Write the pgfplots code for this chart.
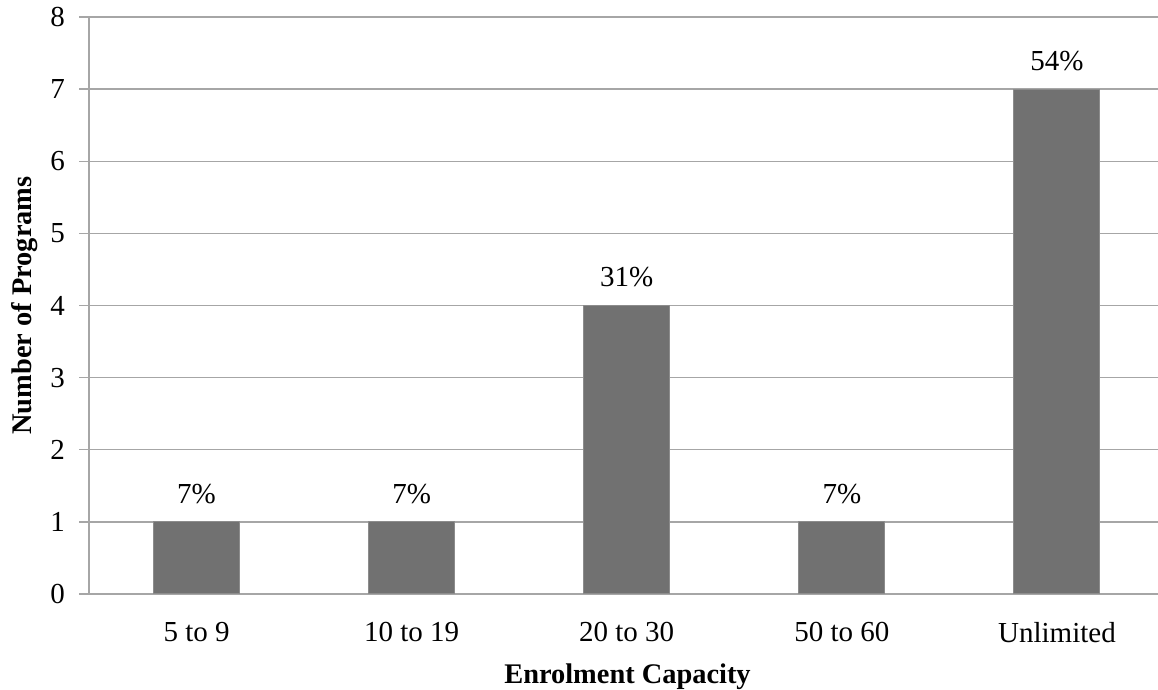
\documentclass[border=0pt]{standalone}
\usepackage{pgfplots}
\pgfplotsset{compat=1.18}
\usepackage{fontspec}
\setmainfont{Liberation Serif}
\definecolor{barfill}{HTML}{717171}
\definecolor{baredge}{HTML}{8C8C8C}
\definecolor{gridgray}{HTML}{A6A6A6}
\begin{document}
\fontsize{14.5}{17}\selectfont
\begin{tikzpicture}
  \begin{axis}[
    scale only axis,
    width=534.5pt,
    height=288.5pt,
    ymin=0, ymax=8,
    xmin=-0.5, xmax=4.47,
    ytick={0,1,...,8},
    xtick=data,
    xticklabels={5 to 9,10 to 19,20 to 30,50 to 60,Unlimited},
    axis x line*=bottom,
    axis y line*=left,
    axis line style={gridgray, line width=0.65pt},
    x axis line style={-},
    y axis line style={-},
    ymajorgrids,
    grid style={gridgray, line width=0.65pt},
    major x tick style={draw=none},
    ytick style={gridgray, line width=0.65pt},
    major tick length=5pt,
    ytick align=outside,
    tick label style={font=\fontsize{14.5}{17}\selectfont, /pgf/number format/assume math mode=true},
    yticklabel style={xshift=-2pt},
    xticklabel style={yshift=-4pt},
    ylabel={\textbf{Number of Programs}},
    xlabel={\textbf{Enrolment Capacity}},
    label style={font=\fontsize{14.2}{17}\selectfont},
    ylabel style={yshift=-3.5pt},
    xlabel style={yshift=-1pt, xshift=2pt},
    ybar,
    bar width=43pt,
    enlargelimits=false,
    clip=false,
    nodes near coords,
    point meta=explicit symbolic,
    every node near coord/.append style={font=\fontsize{14.5}{17}\selectfont, yshift=4pt},
  ]
    \addplot[fill=barfill, draw=baredge, line width=0.5pt] table[meta=lab] {
      x y lab
      0 1 7\%
      1 1 7\%
      2 4 31\%
      3 1 7\%
      4 7 54\%
    };
    \coordinate (bl) at (rel axis cs:-0.08326,-0.16638);
    \coordinate (tr) at (rel axis cs:1,1.02946);
  \end{axis}
  \pgfresetboundingbox
  \path[use as bounding box] (bl) rectangle (tr);
\end{tikzpicture}
\end{document}
